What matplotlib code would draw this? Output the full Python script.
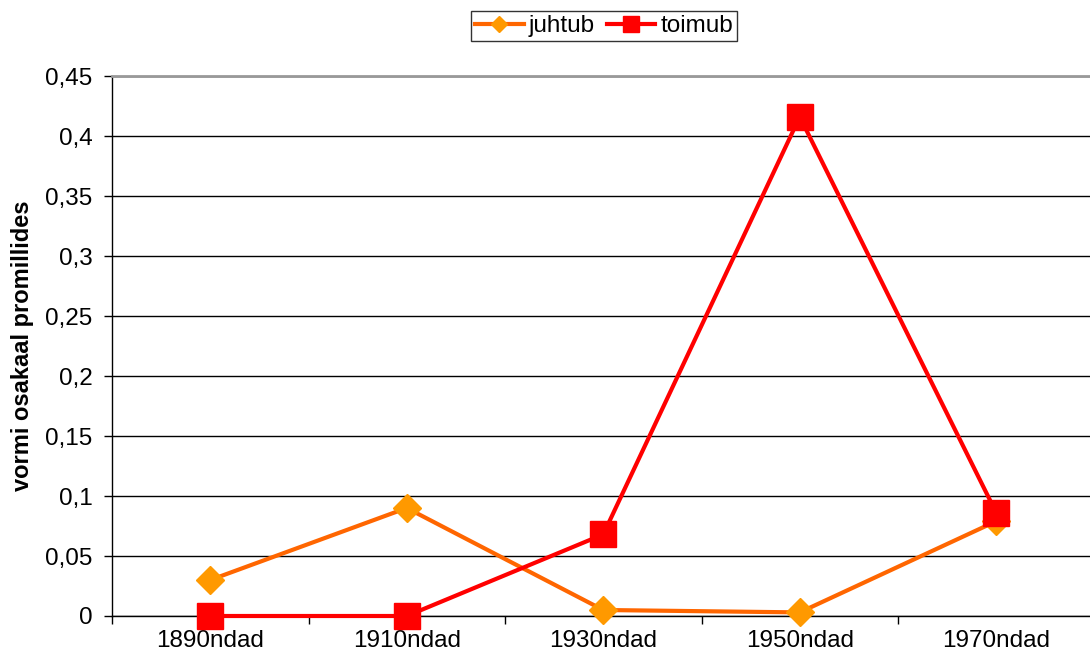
import numpy as np
import matplotlib.pyplot as plt

plt.rcParams['font.family'] = ['Liberation Sans', 'DejaVu Sans']

# data
decades = ['1890ndad', '1910ndad', '1930ndad', '1950ndad', '1970ndad']
juhtub = [0.030, 0.090, 0.005, 0.003, 0.079]
toimub = [0.000, 0.000, 0.068, 0.416, 0.086]
yticks = [0, 0.05, 0.1, 0.15, 0.2, 0.25, 0.3, 0.35, 0.4, 0.45]

fig = plt.figure(figsize=(10.9, 6.65), dpi=100)
ax = fig.add_axes([112/1090, 49/665, 982.5/1090, 540/665])

x = np.arange(len(decades))
ax.plot(x, juhtub, color='#FF6600', lw=3, marker='D', ms=14,
        mfc='#FF9900', mec='#FF9900', label='juhtub', zorder=3, clip_on=False)
ax.plot(x, toimub, color='#FF0000', lw=3, marker='s', ms=19,
        mfc='#FF0000', mec='#FF0000', label='toimub', zorder=4, clip_on=False)

ax.set_xlim(-0.5, len(decades) - 0.5)
ax.set_ylim(0, 0.45)
ax.set_yticks(yticks)
ax.set_yticklabels([('%g' % v).replace('.', ',') for v in yticks], fontsize=17.5)
ax.set_xticks(x)
ax.set_xticklabels(decades, fontsize=17.5)
ax.set_xticks(np.arange(len(decades) + 1) - 0.5, minor=True)
ax.tick_params(axis='x', which='major', length=0, pad=10)
ax.tick_params(axis='x', which='minor', length=6, width=1, direction='out')
ax.tick_params(axis='y', length=6, width=1, direction='out', pad=8)
ax.yaxis.grid(True, color='black', lw=1)
ax.set_axisbelow(True)

ax.spines['right'].set_visible(False)
ax.spines['top'].set_color('#999999')
ax.spines['top'].set_linewidth(2)
ax.spines['left'].set_linewidth(1)
ax.spines['bottom'].set_linewidth(1)

ax.set_ylabel('vormi osakaal promillides', fontsize=17, fontweight='bold', labelpad=8)

leg = fig.legend(loc='center', bbox_to_anchor=(604/1090, 1 - 26/665), ncol=2,
                 fontsize=17.5, frameon=True, fancybox=False, edgecolor='black',
                 handlelength=2.0, handletextpad=0.2, columnspacing=0.5,
                 borderpad=0.15, markerscale=0.6)
leg.get_frame().set_linewidth(1)

fig.savefig('out.png', dpi=100)
